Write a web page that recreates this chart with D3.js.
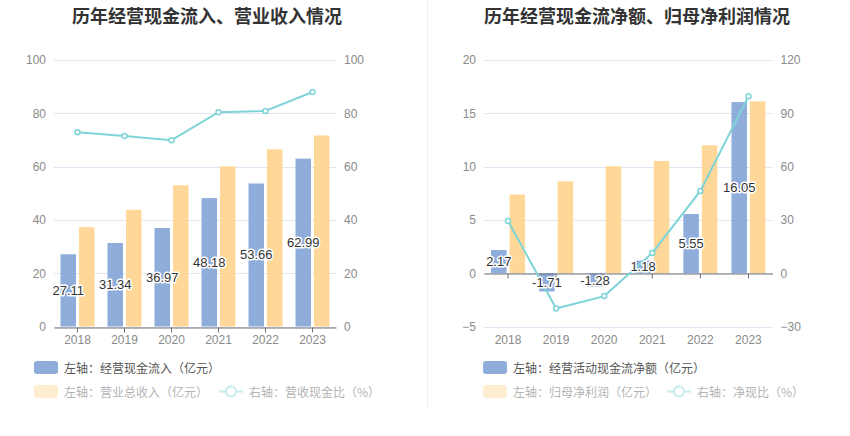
<!DOCTYPE html>
<html><head><meta charset="utf-8">
<script src="https://cdn.jsdelivr.net/npm/d3@7/dist/d3.min.js"></script>
<style>body{margin:0;background:#fff;}svg{display:block;font-family:"Microsoft YaHei","Noto Sans CJK SC",sans-serif;}</style>
</head><body><svg id="c" width="850" height="436"></svg>
<script>
const years = ["2018","2019","2020","2021","2022","2023"];
// left chart
const cashIn = [27.11, 31.34, 36.97, 48.18, 53.66, 62.99];
const revenue = [37.3, 43.8, 53.0, 60.1, 66.5, 71.7];
const cashRatio = [72.9, 71.5, 69.9, 80.4, 80.9, 88.0];
const leftTicksA = [0, 20, 40, 60, 80, 100];
const rightTicksA = [0, 20, 40, 60, 80, 100];
// right chart
const netCash = [2.17, -1.71, -1.28, 1.18, 5.55, 16.05];
const netProfit = [7.38, 8.62, 10.03, 10.53, 12.0, 16.12];
const netRatio = [29.4, -19.9, -12.9, 11.4, 46.3, 99.6];
const leftTicksB = [-5, 0, 5, 10, 15, 20];
const rightTicksB = [-30, 0, 30, 60, 90, 120];

const BLUE = "#8eaddb", ORANGE = "#ffd899", CYAN = "#7fd4d8";
const svg = d3.select("#c");
svg.append("line").attr("x1",427.5).attr("x2",427.5).attr("y1",0).attr("y2",408).attr("stroke","#eeeeee");

function chart(o){
  const g = svg.append("g");
  g.append("text").attr("x",o.titleX).attr("y",15).attr("text-anchor","middle").attr("dominant-baseline","central")
    .attr("font-size",18).attr("font-weight","bold").attr("fill","#333").text(o.title);
  const x = d3.scaleBand().domain(years).range([o.x0,o.x1]);
  const yl = d3.scaleLinear().domain(o.ld).range([o.yb,60]);
  const yr = d3.scaleLinear().domain(o.rd).range([o.yb,60]);
  // grid
  g.selectAll(".gl").data(o.lt).join("line").attr("x1",o.x0).attr("x2",o.x1)
    .attr("y1",d=>Math.round(yl(d))+0.5).attr("y2",d=>Math.round(yl(d))+0.5).attr("stroke","#e0e6f1");
  const lax = d3.axisLeft(yl).tickValues(o.lt).tickSize(0).tickPadding(8);
  const la = g.append("g").attr("transform",`translate(${o.x0},0)`).call(lax);
  la.select(".domain").remove();
  la.selectAll("text").attr("fill","#8a8a8a").attr("font-size",12).attr("font-family","sans-serif");
  const rax = d3.axisRight(yr).tickValues(o.rt).tickSize(0).tickPadding(8);
  const ra = g.append("g").attr("transform",`translate(${o.x1},0)`).call(rax);
  ra.select(".domain").remove();
  ra.selectAll("text").attr("fill","#8a8a8a").attr("font-size",12).attr("font-family","sans-serif");
  // bars
  const bw = 15.5;
  const c = d=>x(d)+x.bandwidth()/2;
  g.selectAll(".bb").data(o.blue).join("rect").attr("x",(d,i)=>c(years[i])-1.5-bw).attr("width",bw)
    .attr("y",d=>Math.min(yl(d),yl(0))).attr("height",d=>Math.abs(yl(d)-yl(0))).attr("fill",BLUE);
  g.selectAll(".ob").data(o.orange).join("rect").attr("x",(d,i)=>c(years[i])+1.5).attr("width",bw)
    .attr("y",d=>Math.min(yl(d),yl(0))).attr("height",d=>Math.abs(yl(d)-yl(0))).attr("fill",ORANGE);
  // x axis
  const xa = g.append("g").attr("transform",`translate(0,${Math.round(yl(0))+0.5})`).call(d3.axisBottom(x).tickSize(5).tickSizeOuter(0));
  xa.select(".domain").attr("stroke","#6e7079");
  xa.selectAll(".tick line").attr("stroke","#6e7079");
  xa.selectAll("text").remove();
  g.selectAll(".xl").data(years).join("text").attr("x",d=>c(d)).attr("y",o.yb+13).attr("text-anchor","middle")
    .attr("dominant-baseline","central").attr("fill","#8a8a8a").attr("font-size",12).attr("font-family","sans-serif").text(d=>d);
  // line
  const line = d3.line().x((d,i)=>c(years[i])).y(d=>yr(d));
  g.append("path").datum(o.ratio).attr("d",line).attr("fill","none").attr("stroke",CYAN).attr("stroke-width",2);
  g.selectAll(".pt").data(o.ratio).join("circle").attr("cx",(d,i)=>c(years[i])).attr("cy",d=>yr(d)).attr("r",2.5)
    .attr("fill","#fff").attr("stroke",CYAN).attr("stroke-width",1.5);
  // labels
  g.selectAll(".lb").data(o.blue).join("text").attr("x",(d,i)=>c(years[i])-1.5-bw/2).attr("y",d=>(yl(d)+yl(0))/2)
    .attr("text-anchor","middle").attr("dominant-baseline","central").attr("font-size",13).attr("font-family","sans-serif")
    .attr("fill","#333").attr("stroke","#fff").attr("stroke-width",3).attr("paint-order","stroke").attr("stroke-linejoin","round")
    .text(d=>d.toFixed(2));
  // legend
  const lg = g.append("g");
  lg.append("rect").attr("x",o.lx).attr("y",361).attr("width",24).attr("height",13).attr("rx",3).attr("fill",BLUE);
  lg.append("text").attr("x",o.lx+30).attr("y",367.5).attr("dominant-baseline","central").attr("font-size",12).attr("fill","#555").text(o.leg1);
  const l2 = g.append("g").attr("opacity",0.45);
  l2.append("rect").attr("x",o.lx).attr("y",385).attr("width",24).attr("height",13).attr("rx",3).attr("fill",ORANGE);
  l2.append("text").attr("x",o.lx+30).attr("y",391.5).attr("dominant-baseline","central").attr("font-size",12).attr("fill","#555").text(o.leg2);
  l2.append("line").attr("x1",o.l3x).attr("x2",o.l3x+24).attr("y1",391.5).attr("y2",391.5).attr("stroke",CYAN).attr("stroke-width",2);
  l2.append("circle").attr("cx",o.l3x+12).attr("cy",391.5).attr("r",5).attr("fill","#fff").attr("stroke",CYAN).attr("stroke-width",2);
  l2.append("text").attr("x",o.l3x+30).attr("y",391.5).attr("dominant-baseline","central").attr("font-size",12).attr("fill","#555").text(o.leg3);
}
chart({title:"历年经营现金流入、营业收入情况", titleX:207, x0:54, x1:336, yb:326.5,
  ld:[0,100], rd:[0,100], lt:leftTicksA, rt:rightTicksA, blue:cashIn, orange:revenue, ratio:cashRatio,
  lx:34, l3x:219, leg1:"左轴：经营现金流入（亿元）", leg2:"左轴：营业总收入（亿元）", leg3:"右轴：营收现金比（%）"});
chart({title:"历年经营现金流净额、归母净利润情况", titleX:637, x0:484, x1:772.5, yb:326.5,
  ld:[-5,20], rd:[-30,120], lt:leftTicksB, rt:rightTicksB, blue:netCash, orange:netProfit, ratio:netRatio,
  lx:483, l3x:667, leg1:"左轴：经营活动现金流净额（亿元）", leg2:"左轴：归母净利润（亿元）", leg3:"右轴：净现比（%）"});
</script></body></html>
